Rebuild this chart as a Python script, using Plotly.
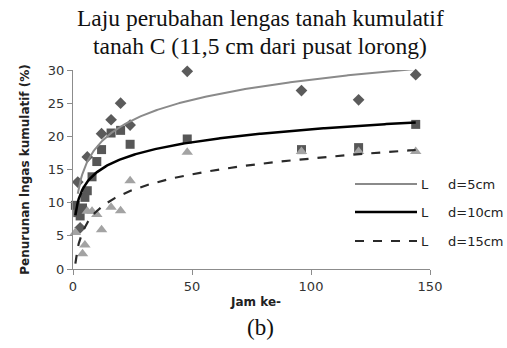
import numpy as np
import plotly.graph_objects as go

# Data
x_d5 = [2, 3, 6, 12, 16, 20, 24, 48, 96, 120, 144]
y_d5 = [13.1, 6.2, 16.9, 20.4, 22.5, 25.0, 21.7, 29.8, 26.9, 25.5, 29.3]

x_d10 = [1, 2, 3, 4, 5, 6, 8, 10, 12, 16, 20, 24, 48, 96, 120, 144]
y_d10 = [9.6, 8.5, 8.0, 9.2, 10.8, 11.8, 13.9, 16.2, 18.0, 20.5, 20.9, 18.8, 19.6, 18.0, 18.3, 21.8]

x_d15 = [1, 4, 5, 6, 8, 10, 12, 16, 20, 24, 48, 96, 120, 144]
y_d15 = [5.5, 2.3, 3.6, 8.7, 8.7, 8.2, 5.9, 9.3, 8.8, 13.3, 17.6, 17.7, 17.7, 17.7]

series_names = ["d=5cm", "d=10cm", "d=15cm"]
x_ticks = [0, 50, 100, 150]
y_ticks = [0, 5, 10, 15, 20, 25, 30]

W, H = 507, 348
L, R, T, B = 73, 430, 70, 269


def px(xpix):
    return (xpix - L) / (R - L)


def py(ypix):
    return (B - ypix) / (B - T)


fig = go.Figure()

marker_styles = [
    dict(symbol="diamond", size=9, color="#5b5b5b"),
    dict(symbol="square", size=9, color="#575757"),
    dict(symbol="triangle-up", size=10, color="#a3a3a3"),
]
line_styles = [
    dict(color="#8a8a8a", width=2),
    dict(color="#000000", width=2.5),
    dict(color="#2a2a2a", width=2.2, dash="dash"),
]
datasets = [(x_d5, y_d5), (x_d10, y_d10), (x_d15, y_d15)]

for (xs, ys), ms in zip(datasets, marker_styles):
    fig.add_trace(go.Scatter(x=xs, y=ys, mode="markers", marker=ms,
                             cliponaxis=False,
                             showlegend=False, hoverinfo="skip"))

# logarithmic trendlines fitted from the data
for (xs, ys), ls, nm in zip(datasets, line_styles, series_names):
    xa = np.array(xs, dtype=float)
    a, b = np.polyfit(np.log(xa), np.array(ys, dtype=float), 1)
    xf = np.linspace(xa.min(), xa.max(), 300)
    fig.add_trace(go.Scatter(x=xf, y=a * np.log(xf) + b, mode="lines",
                             line=ls, name=nm, showlegend=False,
                             cliponaxis=False, hoverinfo="skip"))

axis_common = dict(showgrid=False, zeroline=False, showline=True,
                   linecolor="#8c8c8c", linewidth=1, ticks="outside",
                   tickcolor="#8c8c8c", ticklen=5,
                   tickfont=dict(family="DejaVu Sans", size=13, color="#333333"))

fig.update_layout(
    width=W, height=H,
    margin=dict(l=L, r=W - R, t=T, b=H - B),
    paper_bgcolor="white", plot_bgcolor="white",
    font=dict(family="DejaVu Sans", size=13, color="#333333"),
    xaxis=dict(range=[0, 150], tickvals=x_ticks, **axis_common),
    yaxis=dict(range=[0, 30], tickvals=y_ticks, **axis_common,
               title=dict(text="<b>Penurunan lngas kumulatif (%)</b>",
                          standoff=15,
                          font=dict(family="DejaVu Sans", size=12,
                                    color="#222222"))),
)

# manual legend (line sample + "L" + label)
leg_y = [184, 212, 241]
for ls, nm, ypix in zip(line_styles, series_names, leg_y):
    fig.add_shape(type="line", xref="paper", yref="paper",
                  x0=px(355), x1=px(417), y0=py(ypix), y1=py(ypix),
                  line=ls)
    fig.add_annotation(xref="paper", yref="paper", x=px(425), y=py(ypix),
                       text="L", showarrow=False, xanchor="center",
                       yanchor="middle",
                       font=dict(family="DejaVu Sans", size=13, color="#222222"))
    fig.add_annotation(xref="paper", yref="paper", x=px(446), y=py(ypix),
                       text=nm, showarrow=False, xanchor="left",
                       yanchor="middle",
                       font=dict(family="DejaVu Sans", size=13, color="#222222"))

# x-axis title
fig.add_annotation(xref="paper", yref="paper", x=px(256), y=py(302),
                   text="<b>Jam ke-</b>", showarrow=False, xanchor="center",
                   yanchor="middle",
                   font=dict(family="DejaVu Sans", size=12, color="#222222"))

# title lines and caption
title_lines = ["Laju perubahan lengas tanah kumulatif",
               "tanah C (11,5 cm dari pusat lorong)"]
for txt, ypix in zip(title_lines, [18, 46]):
    fig.add_annotation(xref="paper", yref="paper", x=px(260), y=py(ypix),
                       text=txt, showarrow=False, xanchor="center",
                       yanchor="middle",
                       font=dict(family="Liberation Serif", size=23.5,
                                 color="#111111"))
fig.add_annotation(xref="paper", yref="paper", x=px(260), y=py(327),
                   text="(b)", showarrow=False, xanchor="center",
                   yanchor="middle",
                   font=dict(family="Liberation Serif", size=23, color="#111111"))

fig.write_html("out.html")
